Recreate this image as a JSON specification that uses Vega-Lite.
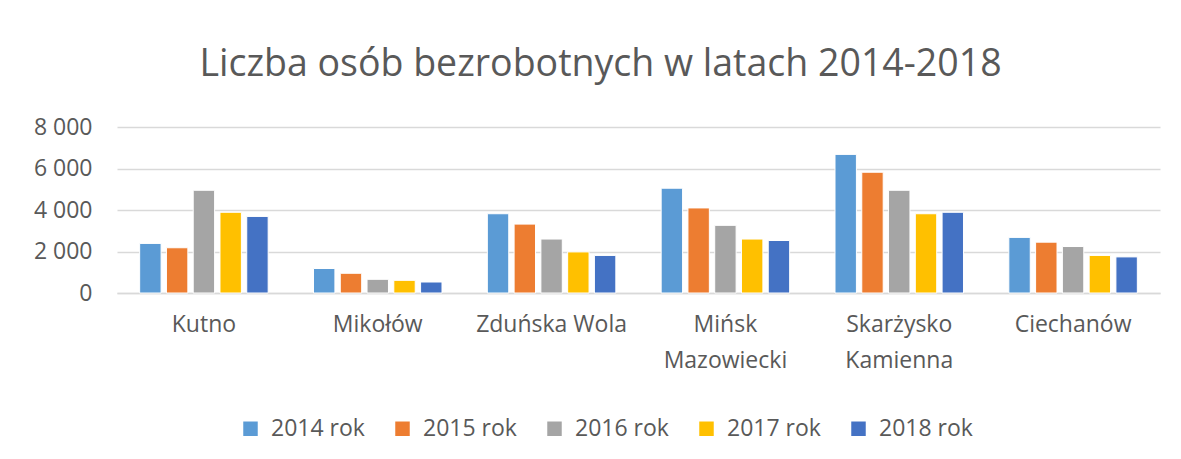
{
  "$schema": "https://vega.github.io/schema/vega-lite/v6.json",
  "autosize": {"type": "none"},
  "width": 1043,
  "height": 166,
  "padding": {"left": 117, "top": 127, "right": 21, "bottom": 166},
  "background": "white",
  "title": {
    "text": "Liczba osób bezrobotnych w latach 2014-2018",
    "font": "Open Sans",
    "fontSize": 37.5,
    "fontWeight": "normal",
    "color": "#595959",
    "anchor": "middle",
    "frame": "group",
    "dx": -38,
    "offset": 33
  },
  "data": {
    "values": [
      {"miasto": "Kutno", "rok": "2014 rok", "liczba": 2390},
      {"miasto": "Kutno", "rok": "2015 rok", "liczba": 2180},
      {"miasto": "Kutno", "rok": "2016 rok", "liczba": 4950},
      {"miasto": "Kutno", "rok": "2017 rok", "liczba": 3890},
      {"miasto": "Kutno", "rok": "2018 rok", "liczba": 3690},
      {"miasto": "Mikołów", "rok": "2014 rok", "liczba": 1180},
      {"miasto": "Mikołów", "rok": "2015 rok", "liczba": 950},
      {"miasto": "Mikołów", "rok": "2016 rok", "liczba": 660},
      {"miasto": "Mikołów", "rok": "2017 rok", "liczba": 610},
      {"miasto": "Mikołów", "rok": "2018 rok", "liczba": 530},
      {"miasto": "Zduńska Wola", "rok": "2014 rok", "liczba": 3820},
      {"miasto": "Zduńska Wola", "rok": "2015 rok", "liczba": 3320},
      {"miasto": "Zduńska Wola", "rok": "2016 rok", "liczba": 2600},
      {"miasto": "Zduńska Wola", "rok": "2017 rok", "liczba": 1980},
      {"miasto": "Zduńska Wola", "rok": "2018 rok", "liczba": 1810},
      {"miasto": "Mińsk Mazowiecki", "rok": "2014 rok", "liczba": 5050},
      {"miasto": "Mińsk Mazowiecki", "rok": "2015 rok", "liczba": 4100},
      {"miasto": "Mińsk Mazowiecki", "rok": "2016 rok", "liczba": 3260},
      {"miasto": "Mińsk Mazowiecki", "rok": "2017 rok", "liczba": 2600},
      {"miasto": "Mińsk Mazowiecki", "rok": "2018 rok", "liczba": 2530},
      {"miasto": "Skarżysko Kamienna", "rok": "2014 rok", "liczba": 6680},
      {"miasto": "Skarżysko Kamienna", "rok": "2015 rok", "liczba": 5820},
      {"miasto": "Skarżysko Kamienna", "rok": "2016 rok", "liczba": 4950},
      {"miasto": "Skarżysko Kamienna", "rok": "2017 rok", "liczba": 3820},
      {"miasto": "Skarżysko Kamienna", "rok": "2018 rok", "liczba": 3890},
      {"miasto": "Ciechanów", "rok": "2014 rok", "liczba": 2680},
      {"miasto": "Ciechanów", "rok": "2015 rok", "liczba": 2450},
      {"miasto": "Ciechanów", "rok": "2016 rok", "liczba": 2240},
      {"miasto": "Ciechanów", "rok": "2017 rok", "liczba": 1810},
      {"miasto": "Ciechanów", "rok": "2018 rok", "liczba": 1740}
    ]
  },
  "mark": {"type": "bar", "stroke": "white", "strokeWidth": 1},
  "encoding": {
    "x": {
      "field": "miasto",
      "type": "nominal",
      "sort": null,
      "scale": {"paddingInner": 0.23, "paddingOuter": 0.115},
      "axis": {
        "title": null,
        "labelAngle": 0,
        "labelFont": "Open Sans",
        "labelFontSize": 23,
        "labelColor": "#595959",
        "labelPadding": 20,
        "labelLineHeight": 36,
        "ticks": false,
        "domainColor": "#d9d9d9",
        "domainWidth": 1.5,
        "labelExpr": "datum.value == 'Mińsk Mazowiecki' ? ['Mińsk', 'Mazowiecki'] : datum.value == 'Skarżysko Kamienna' ? ['Skarżysko', 'Kamienna'] : datum.value"
      }
    },
    "xOffset": {
      "field": "rok",
      "type": "nominal",
      "scale": {"paddingInner": 0.2, "paddingOuter": 0.1}
    },
    "y": {
      "field": "liczba",
      "type": "quantitative",
      "scale": {"domain": [0, 8000]},
      "axis": {
        "title": null,
        "values": [0, 2000, 4000, 6000, 8000],
        "labelExpr": "replace(format(datum.value, ','), ',', ' ')",
        "labelFont": "Open Sans",
        "labelFontSize": 23,
        "labelColor": "#595959",
        "labelPadding": 25,
        "ticks": false,
        "domain": false,
        "gridColor": "#d9d9d9",
        "gridWidth": 1.5
      }
    },
    "color": {
      "field": "rok",
      "type": "nominal",
      "scale": {
        "domain": ["2014 rok", "2015 rok", "2016 rok", "2017 rok", "2018 rok"],
        "range": ["#5B9BD5", "#ED7D31", "#A5A5A5", "#FFC000", "#4472C4"]
      },
      "legend": {
        "title": null,
        "orient": "none",
        "direction": "horizontal",
        "legendX": 122,
        "legendY": 290,
        "symbolType": "square",
        "symbolSize": 210,
        "symbolStrokeWidth": 0,
        "labelFont": "Open Sans",
        "labelFontSize": 23,
        "labelColor": "#595959",
        "labelOffset": 9,
        "columnPadding": 26
      }
    }
  },
  "config": {
    "view": {"stroke": null}
  }
}
